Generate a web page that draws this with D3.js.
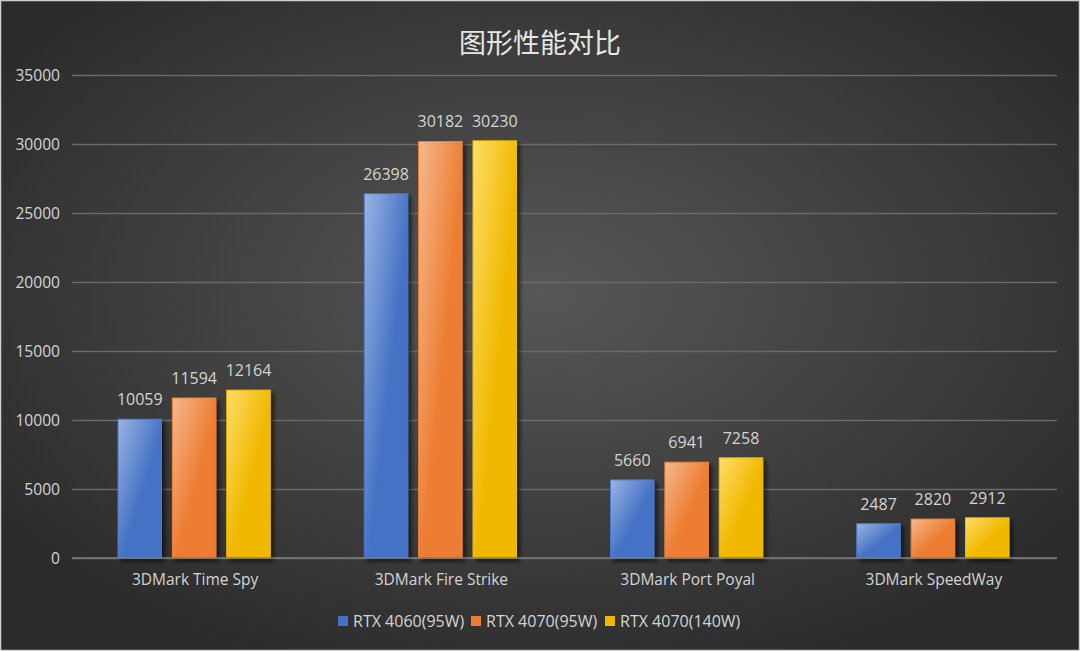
<!DOCTYPE html>
<html><head><meta charset="utf-8">
<script src="https://cdn.jsdelivr.net/npm/d3@7/dist/d3.min.js"></script>
<style>html,body{margin:0;padding:0;background:#fff;}svg{display:block;}</style>
</head><body>
<svg id="chart" width="1080" height="651"></svg>
<script>
const title = "图形性能对比";
const categories = ["3DMark Time Spy", "3DMark Fire Strike", "3DMark Port Poyal", "3DMark SpeedWay"];
const seriesNames = ["RTX 4060(95W)", "RTX 4070(95W)", "RTX 4070(140W)"];
const rtx4060_95 = [10059, 26398, 5660, 2487];
const rtx4070_95 = [11594, 30182, 6941, 2820];
const rtx4070_140 = [12164, 30230, 7258, 2912];
const yTicks = [0, 5000, 10000, 15000, 20000, 25000, 30000, 35000];

const seriesValues = [rtx4060_95, rtx4070_95, rtx4070_140];
const colors = [
  {light: "#9AB4E4", dark: "#4472C4", mid: "#4A78CC"},
  {light: "#F6B88E", dark: "#ED7D31", mid: "#EE8335"},
  {light: "#FFDD66", dark: "#F0B800", mid: "#F2BE00"}
];

const W = 1080, H = 651;
const svg = d3.select("#chart");
const defs = svg.append("defs");

const bg = defs.append("radialGradient").attr("id","bg").attr("cx","50%").attr("cy","45%").attr("r","62%")
  .attr("gradientUnits","objectBoundingBox");
bg.append("stop").attr("offset","0%").attr("stop-color","#575757");
bg.append("stop").attr("offset","100%").attr("stop-color","#2b2b2b");

colors.forEach((c,i)=>{
  const g = defs.append("linearGradient").attr("id","bar"+i).attr("x1","0").attr("y1","0").attr("x2","1").attr("y2","1");
  g.append("stop").attr("offset","0%").attr("stop-color",c.light);
  g.append("stop").attr("offset","55%").attr("stop-color",c.dark);
  g.append("stop").attr("offset","100%").attr("stop-color",c.dark);
});
const sh = defs.append("filter").attr("id","shadow").attr("x","-20%").attr("y","-20%").attr("width","150%").attr("height","150%");
sh.append("feGaussianBlur").attr("in","SourceAlpha").attr("stdDeviation","2");
sh.append("feOffset").attr("dx","3").attr("dy","3").attr("result","ob");
sh.append("feComponentTransfer").append("feFuncA").attr("type","linear").attr("slope","0.6");
const mg = sh.append("feMerge");
mg.append("feMergeNode");
mg.append("feMergeNode").attr("in","SourceGraphic");

svg.append("rect").attr("x",0.5).attr("y",0.5).attr("width",W-1).attr("height",H-1)
  .attr("fill","url(#bg)").attr("stroke","#d0d0d0").attr("stroke-width",1.5);

const pLeft = 72, pRight = 1057, pTop = 75, pBottom = 558;
const x0 = d3.scaleBand().domain(categories).range([pLeft,pRight]).paddingInner(0).paddingOuter(0);
const x1 = d3.scaleBand().domain(d3.range(seriesNames.length)).range([46, x0.bandwidth()-48]).paddingInner(0.2).paddingOuter(0);
const y = d3.scaleLinear().domain([0,35000]).range([pBottom, pTop]);

const font = "'Microsoft YaHei','Noto Sans CJK SC','DejaVu Sans',sans-serif";
const latin = "'Open Sans','Segoe UI',sans-serif";
const txt = "#d4d4d4";

svg.append("text").attr("x",W/2).attr("y",53).attr("text-anchor","middle")
  .attr("font-family",font).attr("font-size",27).attr("fill","#e6e6e6").text(title);

const yAxis = d3.axisLeft(y).tickValues(yTicks).tickSize(-(pRight-pLeft)).tickPadding(12).tickFormat(d3.format("d"));
const ga = svg.append("g").attr("transform",`translate(${pLeft},0)`).call(yAxis);
ga.select(".domain").remove();
ga.selectAll(".tick line").attr("stroke","#6a6a6a").attr("stroke-width",1.5);
ga.selectAll(".tick text").attr("font-family",latin).attr("font-size",15.6).attr("fill",txt);

const groups = svg.append("g").selectAll("g").data(categories).join("g")
  .attr("transform",d=>`translate(${x0(d)},0)`);
seriesValues.forEach((vals,si)=>{
  groups.append("rect")
    .attr("x",x1(si)).attr("width",x1.bandwidth())
    .attr("y",(d,i)=>y(vals[i])).attr("height",(d,i)=>pBottom-y(vals[i]))
    .attr("fill",`url(#bar${si})`).attr("stroke",colors[si].mid).attr("stroke-width",1)
    .attr("filter","url(#shadow)");
  groups.append("text")
    .attr("x",x1(si)+x1.bandwidth()/2).attr("y",(d,i)=>y(vals[i])-14)
    .attr("text-anchor","middle").attr("font-family",latin).attr("font-size",16).attr("fill",txt)
    .text((d,i)=>vals[i]);
});

svg.append("line").attr("x1",pLeft).attr("x2",pRight).attr("y1",pBottom).attr("y2",pBottom)
  .attr("stroke","#7a7a7a").attr("stroke-width",1.5);

const xAxis = d3.axisBottom(x0).tickSize(0).tickPadding(16);
const gx = svg.append("g").attr("transform",`translate(0,${pBottom})`).call(xAxis);
gx.select(".domain").remove();
gx.selectAll(".tick text").attr("font-family",latin).attr("font-size",15.5).attr("fill",txt);

const legendX = [338, 471, 605];
const lg = svg.append("g").selectAll("g").data(seriesNames).join("g")
  .attr("transform",(d,i)=>`translate(${legendX[i]},622)`);
lg.append("rect").attr("x",0).attr("y",-6).attr("width",10).attr("height",10)
  .attr("fill",(d,i)=>colors[i].dark);
lg.append("text").attr("x",15).attr("y",5).attr("font-family",latin).attr("font-size",16).attr("fill",txt).text(d=>d);
</script>
</body></html>
